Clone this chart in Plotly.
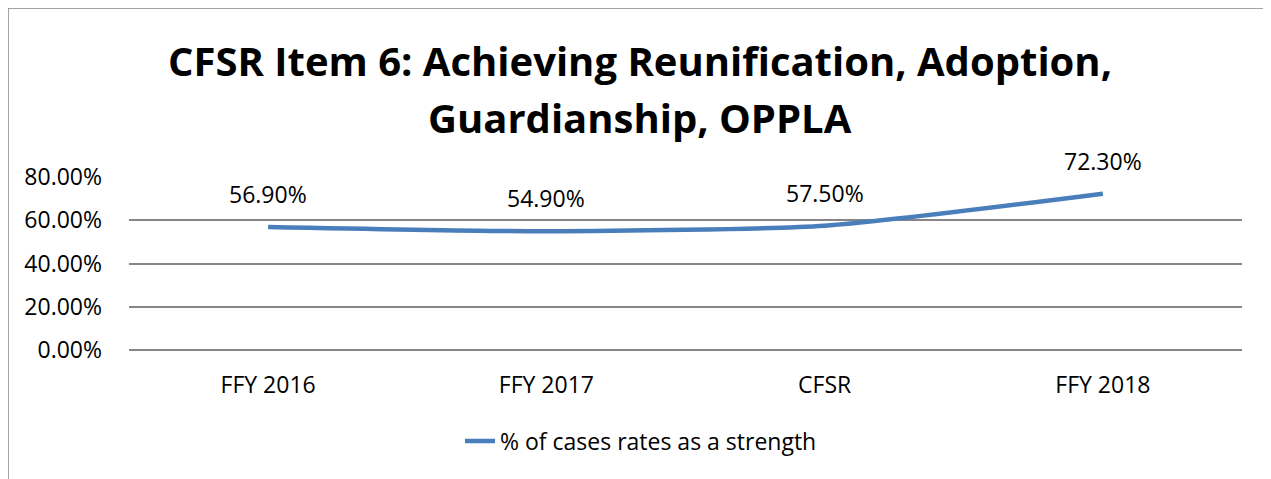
import plotly.graph_objects as go

categories = ["FFY 2016", "FFY 2017", "CFSR", "FFY 2018"]
values = [0.569, 0.549, 0.575, 0.723]
labels = ["56.90%", "54.90%", "57.50%", "72.30%"]
y_ticks = [0, 0.2, 0.4, 0.6, 0.8]
y_tick_text = ["0.00%", "20.00%", "40.00%", "60.00%", "80.00%"]
series_name = "% of cases rates as a strength"
title_lines = ["CFSR Item 6: Achieving Reunification, Adoption,", "Guardianship, OPPLA"]

FONT = "Open Sans, sans-serif"
BLUE = "#4A7EBB"
GRID = "#868686"

# page body has an 8px margin; figure is laid out in its own coordinates
W, H = 1263, 471
ml, mr, mt, mb = 121, 29, 169, 129
pw = W - ml - mr
ph = H - mt - mb

def px_x(x):
    return (x - ml) / pw

def px_y(y):
    return (H - mb - y) / ph

fig = go.Figure()
fig.add_trace(go.Scatter(
    x=categories, y=values, mode="lines", name=series_name,
    line=dict(color=BLUE, width=4.5, shape="spline", smoothing=0.6),
    hoverinfo="skip",
))

for c, v, t in zip(categories, values, labels):
    fig.add_annotation(x=c, y=v, text=t, showarrow=False, yshift=33,
                       font=dict(family=FONT, size=23, color="#000000"))

for i, (line, yc) in enumerate(zip(title_lines, [53, 109])):
    fig.add_annotation(xref="paper", yref="paper", x=px_x(632), y=px_y(yc),
                       xanchor="center", yanchor="middle", text=line, showarrow=False,
                       font=dict(family=FONT, size=40, color="#000000", weight="bold"))

fig.add_shape(type="rect", xref="paper", yref="paper",
              x0=px_x(0), x1=px_x(1262), y0=px_y(490), y1=px_y(0),
              line=dict(color=GRID, width=1.5), fillcolor="rgba(0,0,0,0)",
              layer="below")

fig.update_layout(
    width=W, height=H,
    margin=dict(l=ml, r=mr, t=mt, b=mb, autoexpand=False),
    paper_bgcolor="white", plot_bgcolor="white",
    font=dict(family=FONT, size=23, color="#000000"),
    showlegend=True,
    legend=dict(orientation="h", x=px_x(633), xanchor="center", xref="paper",
                y=px_y(433), yanchor="middle", font=dict(family=FONT, size=23),
                bgcolor="rgba(0,0,0,0)"),
    xaxis=dict(type="category", showgrid=False, showline=False, zeroline=False,
               ticks="", tickfont=dict(family=FONT, size=23), ticklabelstandoff=19,
               range=[-0.5, 3.5]),
    yaxis=dict(range=[0, 0.8], tickvals=y_ticks, ticktext=y_tick_text,
               showgrid=True, gridcolor=GRID, gridwidth=1.5,
               zeroline=True, zerolinecolor=GRID, zerolinewidth=1.5,
               showline=False, ticks="", tickfont=dict(family=FONT, size=23),
               ticklabelstandoff=26),
)

fig.write_html("out.html")
